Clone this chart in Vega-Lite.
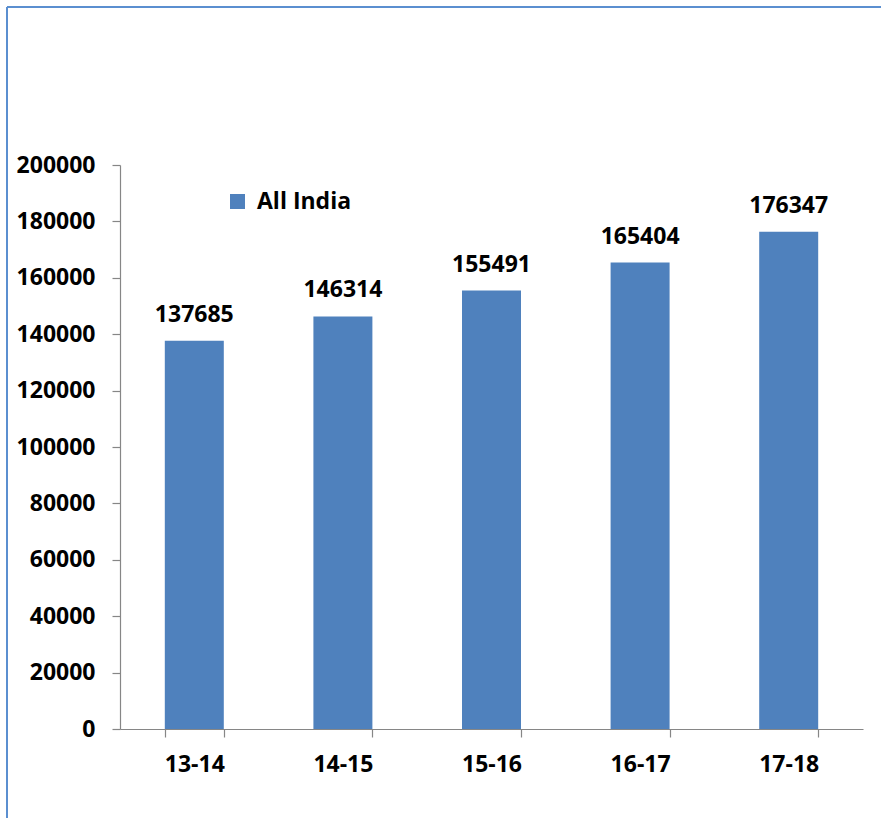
{
  "$schema": "https://vega.github.io/schema/vega-lite/v6.json",
  "width": 874,
  "height": 811,
  "autosize": "none",
  "padding": {"left": 7, "top": 7, "right": 0, "bottom": 0},
  "background": "white",
  "config": {
    "view": {"stroke": "#5b8fd0", "strokeWidth": 2, "strokeDash": [874, 1685, 811, 0]},
    "font": "Open Sans"
  },
  "data": {
    "values": [
      {"year": "13-14", "value": 137685, "series": "All India"},
      {"year": "14-15", "value": 146314, "series": "All India"},
      {"year": "15-16", "value": 155491, "series": "All India"},
      {"year": "16-17", "value": 165404, "series": "All India"},
      {"year": "17-18", "value": 176347, "series": "All India"}
    ]
  },
  "encoding": {
    "x": {
      "field": "year", "type": "nominal", "sort": null,
      "scale": {"range": [113, 856], "paddingInner": 0.603, "paddingOuter": 0.3015},
      "axis": {
        "title": null, "offset": -89, "labelAngle": 0,
        "domainColor": "#868686", "domainWidth": 1.2,
        "tickColor": "#868686", "tickWidth": 1.2, "tickSize": 8, "tickBand": "extent",
        "labelFont": "Open Sans", "labelFontSize": 23, "labelFontWeight": "bold", "labelColor": "#000000",
        "labelPadding": 16, "grid": false
      }
    },
    "y": {
      "field": "value", "type": "quantitative",
      "scale": {"domain": [0, 200000], "range": [722, 158], "nice": false},
      "axis": {
        "title": null, "offset": -113,
        "values": [0, 20000, 40000, 60000, 80000, 100000, 120000, 140000, 160000, 180000, 200000],
        "format": "d",
        "domainColor": "#868686", "domainWidth": 1.2,
        "tickColor": "#868686", "tickWidth": 1.2, "tickSize": 8,
        "labelFont": "Open Sans", "labelFontSize": 23, "labelFontWeight": "bold", "labelColor": "#000000",
        "labelPadding": 17, "grid": false
      }
    }
  },
  "layer": [
    {
      "mark": {"type": "bar"},
      "encoding": {
        "color": {
          "field": "series", "type": "nominal",
          "scale": {"range": ["#4f81bd"]},
          "legend": {
            "title": null, "orient": "none", "legendX": 219, "legendY": 183,
            "symbolType": "square", "symbolSize": 225, "symbolStrokeWidth": 0,
            "labelFont": "Open Sans", "labelFontSize": 23, "labelFontWeight": "bold", "labelColor": "#000000",
            "labelOffset": 8, "padding": 0
          }
        }
      }
    },
    {
      "mark": {"type": "text", "font": "Open Sans", "fontSize": 23, "fontWeight": "bold", "color": "#000000", "baseline": "alphabetic", "dy": -19},
      "encoding": {
        "text": {"field": "value", "type": "quantitative", "format": "d"}
      }
    }
  ]
}
